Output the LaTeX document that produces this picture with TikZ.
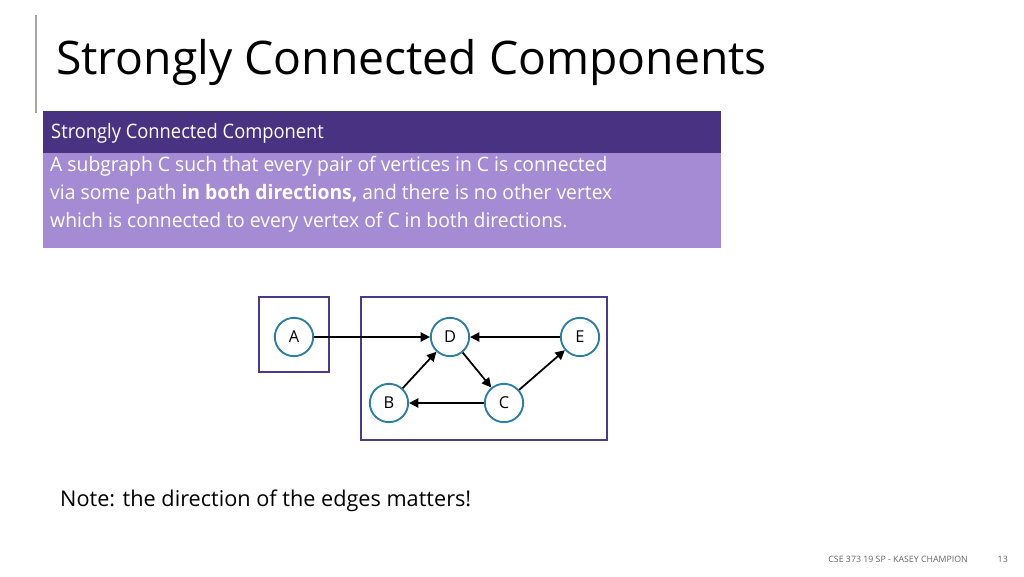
\documentclass[tikz,border=0pt]{standalone}
\usepackage{fontspec}
\setmainfont{Open Sans}
\usetikzlibrary{arrows.meta}
\definecolor{boxpurple}{HTML}{4B3A8C}
\definecolor{barpurple}{HTML}{4A3282}
\definecolor{lightpurple}{HTML}{A58BD3}
\definecolor{ringblue}{HTML}{2C7FA3}
\tikzset{vertex/.style={circle, draw=ringblue, line width=1.6pt, minimum size=1.15cm, inner sep=0pt, font=\fontsize{14}{14}\selectfont},
  sccbox/.style={draw=boxpurple, line width=1.5pt},
  edge/.style={line width=1.5pt, -{Triangle[length=8pt,width=8pt]}}}
\begin{document}
\begin{tikzpicture}[x=0.03cm,y=-0.03cm]
\useasboundingbox (0,0) rectangle (1024,576);
%header
\draw[gray!70, line width=1pt] (36,15) -- (36,113);
\node(title)[anchor=west, inner sep=0pt] at (56,62) {\fontsize{39.5}{42}\selectfont Strongly Connected Components};
\fill[barpurple] (43,111) rectangle (721,153);
\fill[lightpurple] (43,153) rectangle (721,248);
\node(def)[anchor=west, text=white, inner sep=0pt, font=\fontsize{17}{20}\selectfont\addfontfeature{FakeStretch=0.92}] at (51,133) {Strongly Connected Component};
\node(text)[anchor=north west, align=left, text=white, inner sep=0pt, font=\fontsize{17}{23.8}\selectfont\addfontfeature{FakeStretch=0.97}] at (50,156) {A subgraph C such that every pair of vertices in C is connected\\via some path \textbf{in both directions,} and there is no other vertex\\which is connected to every vertex of C in both directions.};
%graph
\draw[sccbox] (259,297) rectangle (329,372);
\draw[sccbox] (361,297) rectangle (607,440);
\node(A)[vertex] at (294,337) {A};
\node(D)[vertex] at (450,337) {D};
\node(E)[vertex] at (580,337) {E};
\node(B)[vertex] at (389,403) {B};
\node(C)[vertex] at (504,403) {C};
\draw[edge](A)--(D);
\draw[edge](E)--(D);
\draw[edge](D)--(C);
\draw[edge](C)--(B);
\draw[edge](B)--(D);
\draw[edge](C)--(E);
%notes
\node(note)[anchor=west, inner sep=0pt] at (60,501) {\fontsize{18.5}{20}\selectfont Note: the direction of the edges matters!};
\node(footer)[anchor=east, inner sep=0pt, text=gray!80!black] at (968,559) {\fontsize{7.5}{9}\selectfont CSE 373 19 SP - KASEY CHAMPION};
\node(page)[anchor=east, inner sep=0pt, text=gray!80!black] at (1008,559) {\fontsize{7.5}{9}\selectfont 13};
\end{tikzpicture}
\end{document}
